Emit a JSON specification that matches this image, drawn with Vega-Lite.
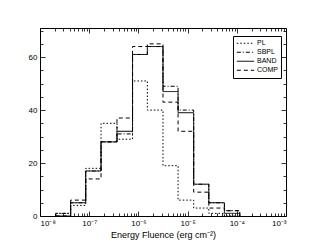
{
 "$schema": "https://vega.github.io/schema/vega-lite/v6.json",
 "width": 246, "height": 188,
 "autosize": "none",
 "padding": {"left": 40, "top": 28, "right": 25, "bottom": 33},
 "config": {"view": {"stroke": "black", "strokeWidth": 1}, "font": "Liberation Sans",
   "axis": {"grid": false, "domain": false, "tickColor": "black", "labelColor": "black", "titleColor": "black", "tickWidth": 0.8}},
 "data": {"values": [
  {"m":"PL","i":0,"x":2.09e-8,"n":0},{"m":"PL","i":1,"x":2.09e-8,"n":1},{"m":"PL","i":2,"x":4.2e-8,"n":4},{"m":"PL","i":3,"x":8.5e-8,"n":18},{"m":"PL","i":4,"x":1.74e-7,"n":35},{"m":"PL","i":5,"x":3.67e-7,"n":29},{"m":"PL","i":6,"x":7.6e-7,"n":51},{"m":"PL","i":7,"x":1.52e-6,"n":40},{"m":"PL","i":8,"x":3.16e-6,"n":19},{"m":"PL","i":9,"x":6.4e-6,"n":6},{"m":"PL","i":10,"x":1.33e-5,"n":3},{"m":"PL","i":11,"x":2.7e-5,"n":1},{"m":"PL","i":12,"x":5.6e-5,"n":0},{"m":"PL","i":13,"x":1.15e-4,"n":0},
  {"m":"SBPL","i":0,"x":2.09e-8,"n":0},{"m":"SBPL","i":1,"x":2.09e-8,"n":1},{"m":"SBPL","i":2,"x":4.2e-8,"n":5},{"m":"SBPL","i":3,"x":8.5e-8,"n":17},{"m":"SBPL","i":4,"x":1.74e-7,"n":28},{"m":"SBPL","i":5,"x":3.67e-7,"n":31},{"m":"SBPL","i":6,"x":7.6e-7,"n":61},{"m":"SBPL","i":7,"x":1.52e-6,"n":64},{"m":"SBPL","i":8,"x":3.16e-6,"n":49},{"m":"SBPL","i":9,"x":6.4e-6,"n":40},{"m":"SBPL","i":10,"x":1.33e-5,"n":12},{"m":"SBPL","i":11,"x":2.7e-5,"n":5},{"m":"SBPL","i":12,"x":5.6e-5,"n":2},{"m":"SBPL","i":13,"x":1.15e-4,"n":0},
  {"m":"BAND","i":0,"x":2.09e-8,"n":0},{"m":"BAND","i":1,"x":2.09e-8,"n":0},{"m":"BAND","i":2,"x":4.2e-8,"n":5},{"m":"BAND","i":3,"x":8.5e-8,"n":17},{"m":"BAND","i":4,"x":1.74e-7,"n":28},{"m":"BAND","i":5,"x":3.67e-7,"n":32},{"m":"BAND","i":6,"x":7.6e-7,"n":61},{"m":"BAND","i":7,"x":1.52e-6,"n":64},{"m":"BAND","i":8,"x":3.16e-6,"n":47},{"m":"BAND","i":9,"x":6.4e-6,"n":39},{"m":"BAND","i":10,"x":1.33e-5,"n":12},{"m":"BAND","i":11,"x":2.7e-5,"n":5},{"m":"BAND","i":12,"x":5.6e-5,"n":1},{"m":"BAND","i":13,"x":1.15e-4,"n":0},
  {"m":"COMP","i":0,"x":2.09e-8,"n":0},{"m":"COMP","i":1,"x":2.09e-8,"n":0},{"m":"COMP","i":2,"x":4.2e-8,"n":6},{"m":"COMP","i":3,"x":8.5e-8,"n":14},{"m":"COMP","i":4,"x":1.74e-7,"n":28},{"m":"COMP","i":5,"x":3.67e-7,"n":37},{"m":"COMP","i":6,"x":7.6e-7,"n":64},{"m":"COMP","i":7,"x":1.52e-6,"n":65},{"m":"COMP","i":8,"x":3.16e-6,"n":43},{"m":"COMP","i":9,"x":6.4e-6,"n":32},{"m":"COMP","i":10,"x":1.33e-5,"n":9},{"m":"COMP","i":11,"x":2.7e-5,"n":3},{"m":"COMP","i":12,"x":5.6e-5,"n":2},{"m":"COMP","i":13,"x":1.15e-4,"n":0}
 ]},
 "layer": [
  {"mark": {"type": "line", "interpolate": "step-after", "strokeWidth": 1, "color": "black"},
   "encoding": {
    "x": {"field": "x", "type": "quantitative", "scale": {"type": "log", "domain": [1e-8, 1e-3], "nice": false},
      "axis": {"orient": "bottom", "values": [1e-8, 1e-7, 1e-6, 1e-5, 1e-4, 1e-3], "tickSize": -5, "labelPadding": 8, "labelFontSize": 8,
        "labelExpr": "'10' + ['⁻⁸','⁻⁷','⁻⁶','⁻⁵','⁻⁴','⁻³'][round(log(datum.value)/LN10)+8]",
        "title": "Energy Fluence (erg cm⁻²)", "titleFontSize": 9, "titleFontWeight": "normal", "titlePadding": 3}},
    "y": {"field": "n", "type": "quantitative", "scale": {"domain": [0, 71], "nice": false},
      "axis": {"orient": "left", "values": [0, 20, 40, 60], "tickSize": -5, "labelPadding": 8, "labelFontSize": 8, "title": null}},
    "strokeDash": {"field": "m", "type": "nominal",
      "scale": {"domain": ["PL", "SBPL", "BAND", "COMP"], "range": [[1.5, 2], [4, 2, 1, 2], [1, 0], [4, 3]]},
      "legend": {"orient": "none", "legendX": 193, "legendY": 8, "title": null, "symbolType": "stroke", "symbolSize": 300,
        "symbolStrokeWidth": 1, "symbolStrokeColor": "black", "labelFontSize": 7, "strokeColor": "black", "fillColor": "white",
        "padding": 3, "rowPadding": 0, "clipHeight": 8.5, "labelOffset": 2}},
    "order": {"field": "i", "type": "quantitative"}
   }},
  {"mark": {"type": "point", "opacity": 0},
   "encoding": {
    "x": {"field": "x", "type": "quantitative", "axis": {"orient": "bottom", "values": [2e-8,3e-8,4e-8,5e-8,6e-8,7e-8,8e-8,9e-8,2e-7,3e-7,4e-7,5e-7,6e-7,7e-7,8e-7,9e-7,2e-6,3e-6,4e-6,5e-6,6e-6,7e-6,8e-6,9e-6,2e-5,3e-5,4e-5,5e-5,6e-5,7e-5,8e-5,9e-5,2e-4,3e-4,4e-4,5e-4,6e-4,7e-4,8e-4,9e-4], "tickSize": -3, "labels": false, "title": null}},
    "y": {"field": "n", "type": "quantitative", "axis": {"orient": "left", "values": [5,10,15,25,30,35,45,50,55,65,70], "tickSize": -3, "labels": false, "title": null}}
   }},
  {"mark": {"type": "point", "opacity": 0},
   "encoding": {
    "x": {"field": "x", "type": "quantitative", "axis": {"orient": "top", "values": [1e-8, 1e-7, 1e-6, 1e-5, 1e-4, 1e-3], "tickSize": -5, "labels": false, "title": null}},
    "y": {"field": "n", "type": "quantitative", "axis": {"orient": "right", "values": [0, 20, 40, 60], "tickSize": -5, "labels": false, "title": null}}
   }},
  {"mark": {"type": "point", "opacity": 0},
   "encoding": {
    "x": {"field": "x", "type": "quantitative", "axis": {"orient": "top", "values": [2e-8,3e-8,4e-8,5e-8,6e-8,7e-8,8e-8,9e-8,2e-7,3e-7,4e-7,5e-7,6e-7,7e-7,8e-7,9e-7,2e-6,3e-6,4e-6,5e-6,6e-6,7e-6,8e-6,9e-6,2e-5,3e-5,4e-5,5e-5,6e-5,7e-5,8e-5,9e-5,2e-4,3e-4,4e-4,5e-4,6e-4,7e-4,8e-4,9e-4], "tickSize": -3, "labels": false, "title": null}},
    "y": {"field": "n", "type": "quantitative", "axis": {"orient": "right", "values": [5,10,15,25,30,35,45,50,55,65,70], "tickSize": -3, "labels": false, "title": null}}
   }}
 ],
 "resolve": {"axis": {"x": "independent", "y": "independent"}}
}
